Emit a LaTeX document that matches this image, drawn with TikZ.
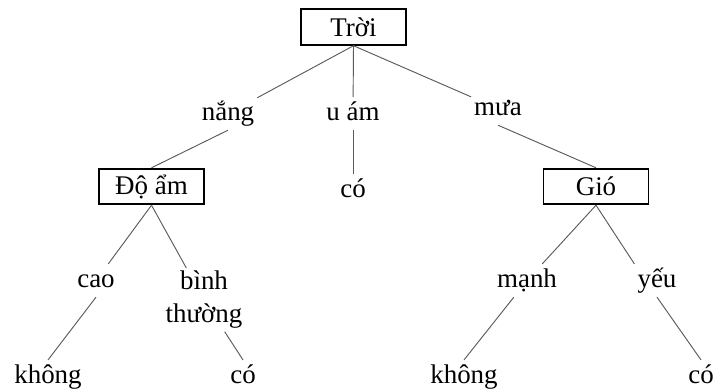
\documentclass[tikz,border=0pt]{standalone}
\usepackage{fontspec}
\setmainfont{Liberation Serif}
\definecolor{branchgray}{HTML}{5A5A5A}

\begin{document}
\begin{tikzpicture}[x=0.03cm, y=-0.03cm, font=\fontsize{23}{28}\selectfont,
  attr/.style={draw=black, line width=1.5pt, minimum width=3.15cm, minimum height=1.07cm, inner sep=0pt},
  val/.style={anchor=base, inner sep=2.5pt, text height=17pt, text depth=6pt},
  branch/.style={draw=branchgray, line width=0.8pt}]
  \useasboundingbox (0,0) rectangle (713,389);
  % attribute boxes
  \node[attr] (troi) at (353.5,27) {Trời};
  \node[attr] (doam) at (151.5,186.5) {Độ ẩm};
  \node[attr] (gio) at (596,186.5) {Gió};
  % values under Trời
  \node[val] (nang) at (228,120) {nắng};
  \node[val] (uam) at (353,120) {u ám};
  \node[val] (mua) at (498,115) {mưa};
  \node[val] (co1) at (353,197) {có};
  % values under Độ ẩm
  \node[val] (cao) at (96,287) {cao};
  \node[anchor=north, inner sep=2.5pt, align=center] (binh) at (204,268) {bình\\thường};
  \node[val] (khong1) at (48,383) {không};
  \node[val] (co2) at (243,383) {có};
  % values under Gió
  \node[val] (manh) at (527,287) {mạnh};
  \node[val] (yeu) at (657,287) {yếu};
  \node[val] (khong2) at (464,383) {không};
  \node[val] (co3) at (701,383) {có};
  % branches
  \draw[branch] (troi.south) -- (nang);
  \draw[branch] (troi.south) -- (uam);
  \draw[branch] (troi.south) -- (mua);
  \draw[branch] (nang.south) -- (doam.north);
  \draw[branch] (uam.south) -- (co1.north);
  \draw[branch] (mua.south) -- (gio.north);
  \draw[branch] (doam.south) -- (cao);
  \draw[branch] (doam.south) -- (binh);
  \draw[branch] (cao.south) -- (khong1.north);
  \draw[branch] (binh) -- (co2.north);
  \draw[branch] (gio.south) -- (manh);
  \draw[branch] (gio.south) -- (yeu.north west);
  \draw[branch] (manh) -- (khong2.north);
  \draw[branch] (yeu.south) -- (co3.north);
\end{tikzpicture}
\end{document}
